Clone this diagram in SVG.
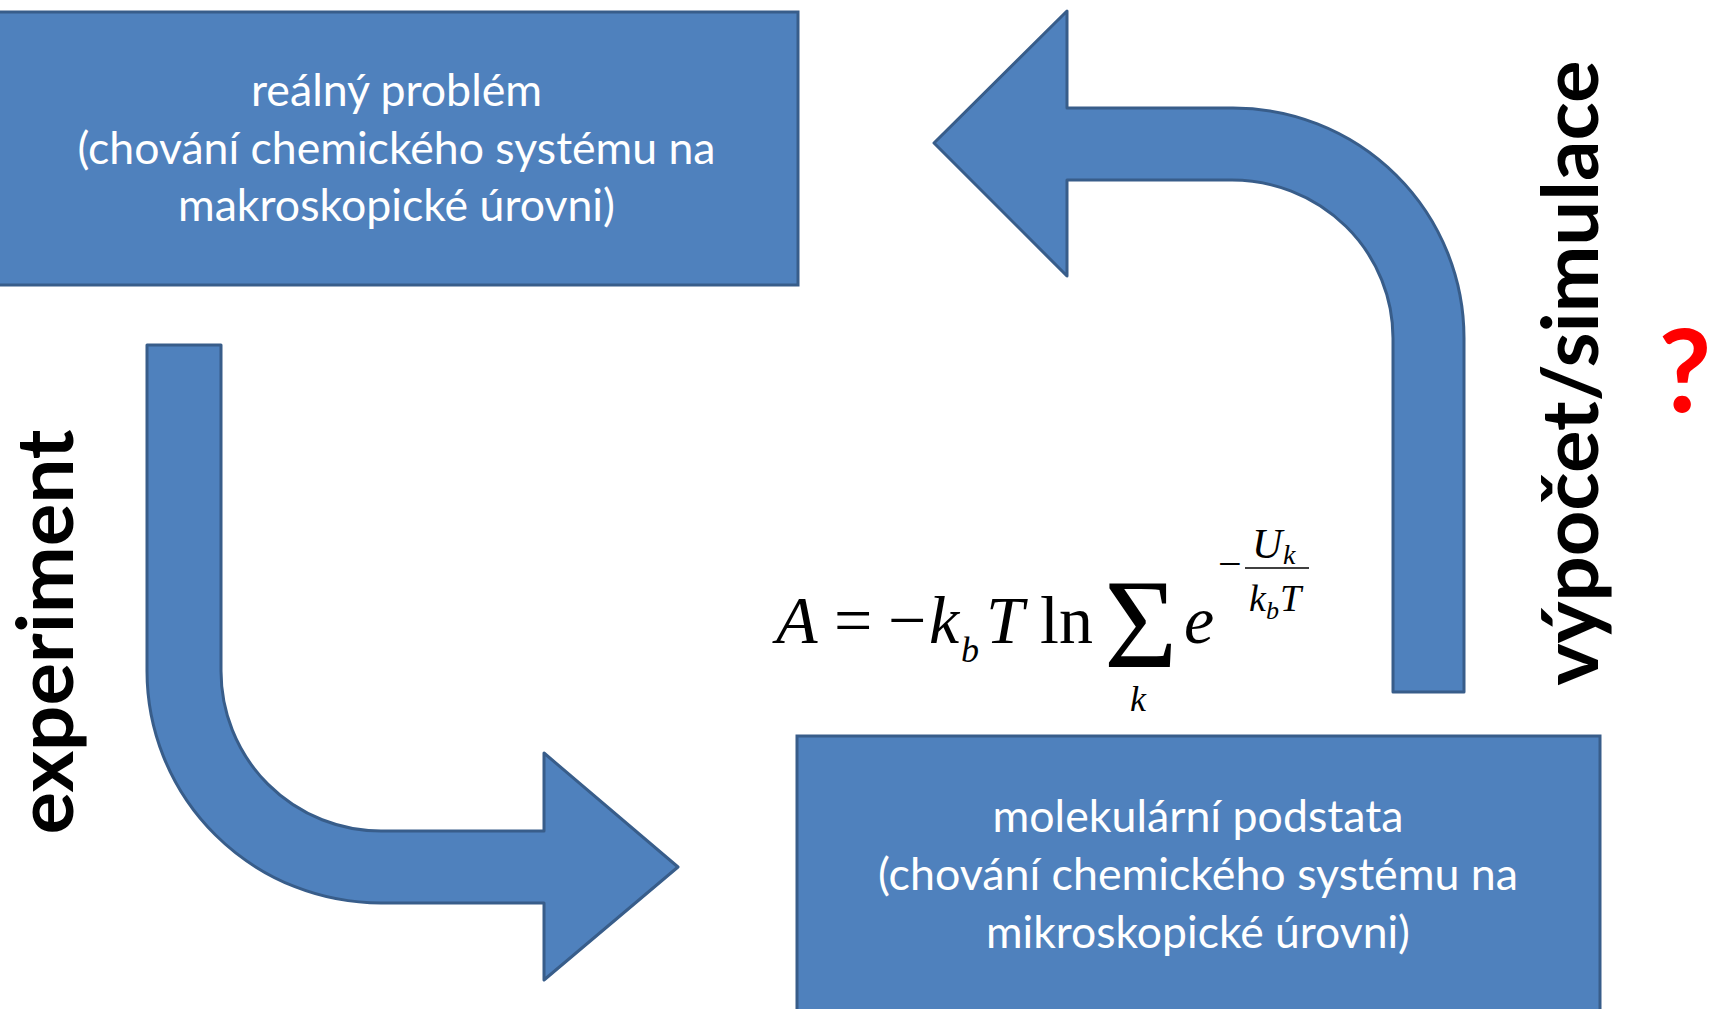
<svg xmlns="http://www.w3.org/2000/svg" width="1710" height="1009" viewBox="0 0 1710 1009">
<style>
.box{fill:#4f81bd;stroke:#385d8a;stroke-width:3}
.arrow{fill:#4f81bd;stroke:#385d8a;stroke-width:3;stroke-linejoin:round}
.bt{font-family:Lato,"Open Sans",sans-serif;font-size:44px;fill:#ffffff;text-anchor:middle}
.lbl{font-family:Lato,"Liberation Sans",sans-serif;font-weight:bold;font-size:79px;fill:#000000;text-anchor:middle}
.mi{font-family:"Liberation Serif","Times New Roman",serif;font-style:italic;fill:#000000}
.mr{font-family:"Liberation Serif","Times New Roman",serif;fill:#000000}
</style>
<rect width="1710" height="1009" fill="#ffffff"/>
<g id="connectors">
<path class="arrow" d="M147,345 L221,345 L221,671 A160,160 0 0 0 381,831 L544,831 L544,753 L678,867 L544,980 L544,903 L381,903 A234,232 0 0 1 147,671 Z"/>
<path class="arrow" d="M1393,692 L1393,338 A161,158 0 0 0 1232,180 L1067,180 L1067,276 L934,143 L1067,11 L1067,108 L1232,108 A231,230 0 0 1 1464,338 L1464,692 Z"/>
</g>
<g id="node-realny">
<rect class="box" x="-5" y="12" width="803" height="273"/>
<text class="bt" x="396.5" y="106" textLength="291" lengthAdjust="spacingAndGlyphs">reálný problém</text>
<text class="bt" x="396.5" y="164" textLength="638" lengthAdjust="spacingAndGlyphs">(chování chemického systému na</text>
<text class="bt" x="396.5" y="221" textLength="437" lengthAdjust="spacingAndGlyphs">makroskopické úrovni)</text>
</g>
<g id="node-molekularni">
<rect class="box" x="797" y="736" width="803" height="290"/>
<text class="bt" x="1198" y="832" textLength="411" lengthAdjust="spacingAndGlyphs">molekulární podstata</text>
<text class="bt" x="1198" y="890" textLength="640" lengthAdjust="spacingAndGlyphs">(chování chemického systému na</text>
<text class="bt" x="1198" y="948" textLength="424" lengthAdjust="spacingAndGlyphs">mikroskopické úrovni)</text>
</g>
<g id="label-experiment">
<text class="lbl" transform="translate(73,632) rotate(-90)" textLength="405" lengthAdjust="spacingAndGlyphs">experiment</text>
</g>
<g id="label-vypocet">
<text class="lbl" transform="translate(1598,373) rotate(-90)" textLength="625" lengthAdjust="spacingAndGlyphs">výpočet/simulace</text>
</g>
<g id="label-question">
<text x="1685" y="412" style="font-family:Lato,'Liberation Sans',sans-serif;font-weight:bold;font-size:115px;fill:#ff0000;text-anchor:middle">?</text>
</g>
<g id="formula">
<text class="mi" x="776" y="643" font-size="68">A</text>
<text class="mr" x="834" y="643" font-size="68">=</text>
<text class="mr" x="888" y="643" font-size="68">−</text>
<text class="mi" x="929" y="643" font-size="68">k</text>
<text class="mi" x="961" y="662" font-size="36">b</text>
<text class="mi" x="986" y="643" font-size="68">T</text>
<text class="mr" x="1040" y="643" font-size="68">ln</text>
<text class="mr" x="1104" y="667" font-size="126">Σ</text>
<text class="mi" x="1130" y="711" font-size="36">k</text>
<text class="mi" x="1184" y="643" font-size="68">e</text>
<text class="mr" x="1218" y="578" font-size="42">−</text>
<line x1="1245" y1="568" x2="1309" y2="568" stroke="#000000" stroke-width="1.4"/>
<text class="mi" x="1252" y="558" font-size="42">U</text>
<text class="mi" x="1283" y="564" font-size="28">k</text>
<text class="mi" x="1249" y="611" font-size="38">k</text>
<text class="mi" x="1266" y="619" font-size="26">b</text>
<text class="mi" x="1280" y="611" font-size="38">T</text>
</g>
</svg>
